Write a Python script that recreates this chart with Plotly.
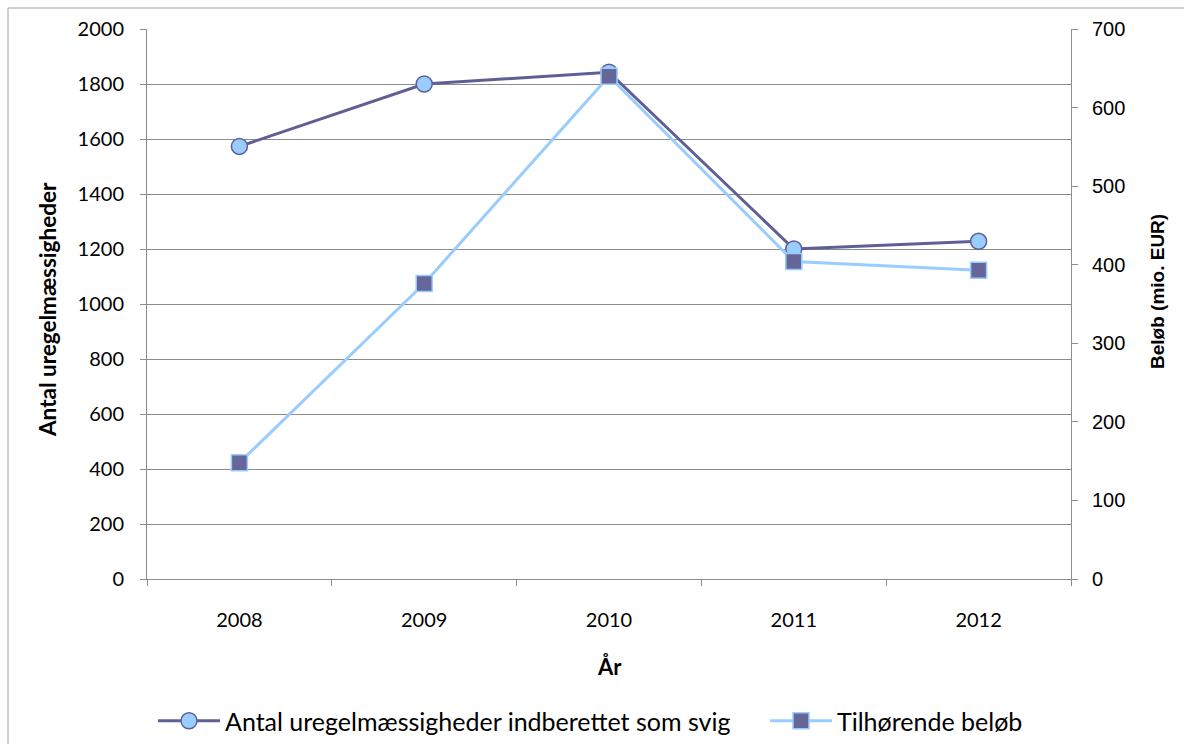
import plotly.graph_objects as go

years = ["2008", "2009", "2010", "2011", "2012"]
antal = [1573, 1800, 1843, 1200, 1228]
beloeb = [148, 376, 640, 404, 393]

name1 = "Antal uregelmæssigheder indberettet som svig"
name2 = "Tilhørende beløb"

dark = "#5F5F96"
light = "#99CCFF"
sq = "#666699"
grid = "#8C8C8C"

fig = go.Figure()
fig.add_trace(go.Scatter(
    x=years, y=antal, name=name1, mode="lines+markers",
    line=dict(color=dark, width=3),
    marker=dict(symbol="circle", size=16, color=light, line=dict(color=dark, width=1.5)),
    yaxis="y", legend="legend",
))
fig.add_trace(go.Scatter(
    x=years, y=beloeb, name=name2, mode="lines+markers",
    line=dict(color=light, width=3),
    marker=dict(symbol="square", size=16, color=sq, line=dict(color=light, width=1.5)),
    yaxis="y2", legend="legend2",
))

lato = "Lato, Open Sans, sans-serif"
arial = "Liberation Sans, Arial, sans-serif"
tickfont_l = dict(family=lato, size=20, color="#000")
tickfont_r = dict(family=arial, size=20, color="#000")

leg_common = dict(orientation="h", xref="container", xanchor="left",
                  yref="container", y=(744 - 721) / 744, yanchor="middle",
                  font=dict(family=lato, size=25, color="#000"),
                  itemwidth=62, bgcolor="rgba(0,0,0,0)")

fig.update_layout(
    width=1184, height=744,
    margin=dict(l=147, r=113, t=29, b=165),
    paper_bgcolor="white", plot_bgcolor="white",
    showlegend=True,
    legend=dict(x=153 / 1184, **leg_common),
    legend2=dict(x=765 / 1184, **leg_common),
    xaxis=dict(type="category", range=[-0.5, 4.5], showgrid=False,
               showline=True, linecolor=grid, linewidth=1,
               ticks="outside", ticklen=6, tickcolor=grid, tickson="boundaries",
               tickfont=tickfont_l, ticklabelstandoff=23, zeroline=False, automargin=False),
    yaxis=dict(range=[0, 2000], dtick=200, showgrid=True, gridcolor=grid, gridwidth=1,
               showline=True, linecolor=grid, linewidth=1,
               ticks="outside", ticklen=6, tickcolor=grid,
               tickfont=tickfont_l, ticklabelstandoff=12, zeroline=False, automargin=False),
    yaxis2=dict(range=[0, 700], dtick=100, overlaying="y", side="right", showgrid=False,
                showline=True, linecolor=grid, linewidth=1,
                ticks="outside", ticklen=6, tickcolor=grid,
                tickfont=tickfont_r, ticklabelstandoff=10, zeroline=False, automargin=False),
    annotations=[
        dict(text="<b>År</b>", xref="paper", yref="paper", x=0.5, y=(579 - 666) / 550,
             xanchor="center", yanchor="middle", showarrow=False,
             font=dict(family=lato, size=22, color="#000")),
        dict(text="<b>Antal uregelmæssigheder</b>", xref="paper", yref="paper",
             x=(47 - 147) / 924, y=(579 - 310) / 550, xanchor="center", yanchor="middle", textangle=-90,
             showarrow=False, font=dict(family=lato, size=22.5, color="#000")),
        dict(text="<b>Beløb (mio. EUR)</b>", xref="paper", yref="paper",
             x=(1157 - 147) / 924, y=(579 - 292) / 550, xanchor="center", yanchor="middle", textangle=-90,
             showarrow=False, font=dict(family=arial, size=19, color="#000")),
    ],
    shapes=[
        dict(type="rect", xref="paper", yref="paper",
             x0=(8 - 147) / 924, x1=(1200 - 147) / 924,
             y0=(579 - 760) / 550, y1=(579 - 8) / 550,
             line=dict(color="#A0A0A0", width=1), fillcolor="rgba(0,0,0,0)", layer="below"),
    ],
)

fig.write_html("out.html", config={"displayModeBar": False},
               post_script="document.body.style.margin='0';")
